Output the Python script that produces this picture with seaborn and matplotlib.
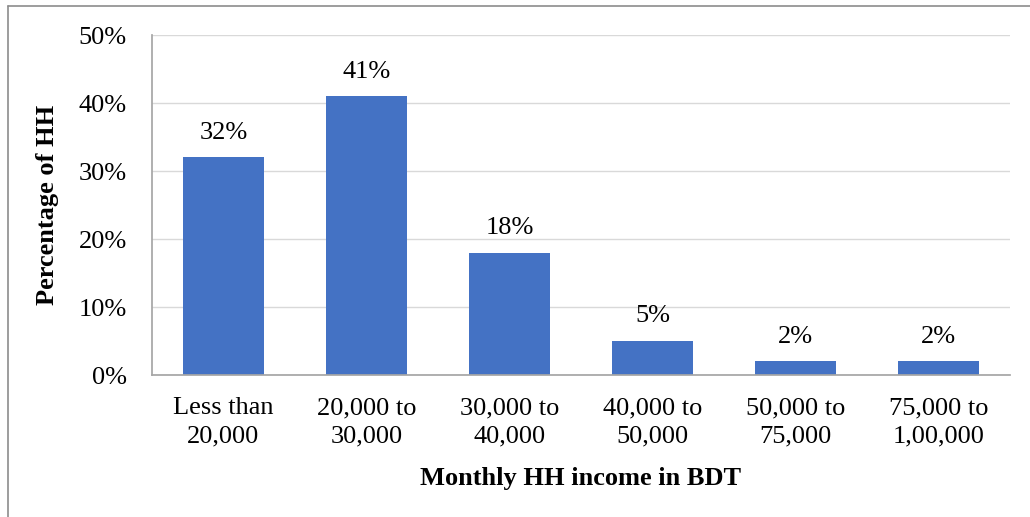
import pandas as pd
import matplotlib.pyplot as plt
import seaborn as sns
from matplotlib.lines import Line2D

categories = ["Less than\n20,000", "20,000 to\n30,000", "30,000 to\n40,000",
              "40,000 to\n50,000", "50,000 to\n75,000", "75,000 to\n1,00,000"]
shares = [32, 41, 18, 5, 2, 2]
yticks = [0, 10, 20, 30, 40, 50]

df = pd.DataFrame({"income": categories, "pct": shares})

sns.set_theme(style="white")
plt.rcParams['font.family'] = ['Liberation Serif', 'DejaVu Serif']
plt.rcParams['text.color'] = 'black'

FS = 19

fig = plt.figure(figsize=(10.3, 5.17), dpi=100)
ax = fig.add_axes([152 / 1030, 1 - 375 / 517, 858 / 1030, 340 / 517])

sns.barplot(data=df, x="income", y="pct", color="#4472C4", width=0.57,
            saturation=1, linewidth=0, ax=ax)

ax.set_ylim(0, 50)
ax.set_yticks(yticks)
ax.set_yticklabels([f"{t}%" for t in yticks], fontsize=FS, color="black")
ax.tick_params(axis="x", labelsize=FS, colors="black", length=0, pad=16)
ax.tick_params(axis="y", length=0, pad=18)
for lbl in ax.get_xticklabels():
    lbl.set_linespacing(1.35)
ax.grid(axis="y", color="#D9D9D9", linewidth=1)
ax.set_axisbelow(True)

for s in ["top", "right"]:
    ax.spines[s].set_visible(False)
ax.spines["left"].set_color("#A6A6A6")
ax.spines["bottom"].set_color("#A6A6A6")

for i, v in enumerate(shares):
    ax.text(i, v + 2, f"{v}%", ha="center", va="bottom", fontsize=FS)

ax.set_xlabel("Monthly HH income in BDT", fontsize=FS, fontweight="bold",
              labelpad=14, color="black")
ax.set_ylabel("Percentage of HH", fontsize=FS, fontweight="bold",
              labelpad=14, color="black")

# outer frame of the chart
fig.add_artist(Line2D([7.5 / 1030, 1], [1 - 5.5 / 517, 1 - 5.5 / 517],
                      transform=fig.transFigure, color="#8C8C8C", linewidth=1.2))
fig.add_artist(Line2D([7.5 / 1030, 7.5 / 1030], [0, 1 - 5.5 / 517],
                      transform=fig.transFigure, color="#8C8C8C", linewidth=1.2))

fig.savefig("out.png", dpi=100)
